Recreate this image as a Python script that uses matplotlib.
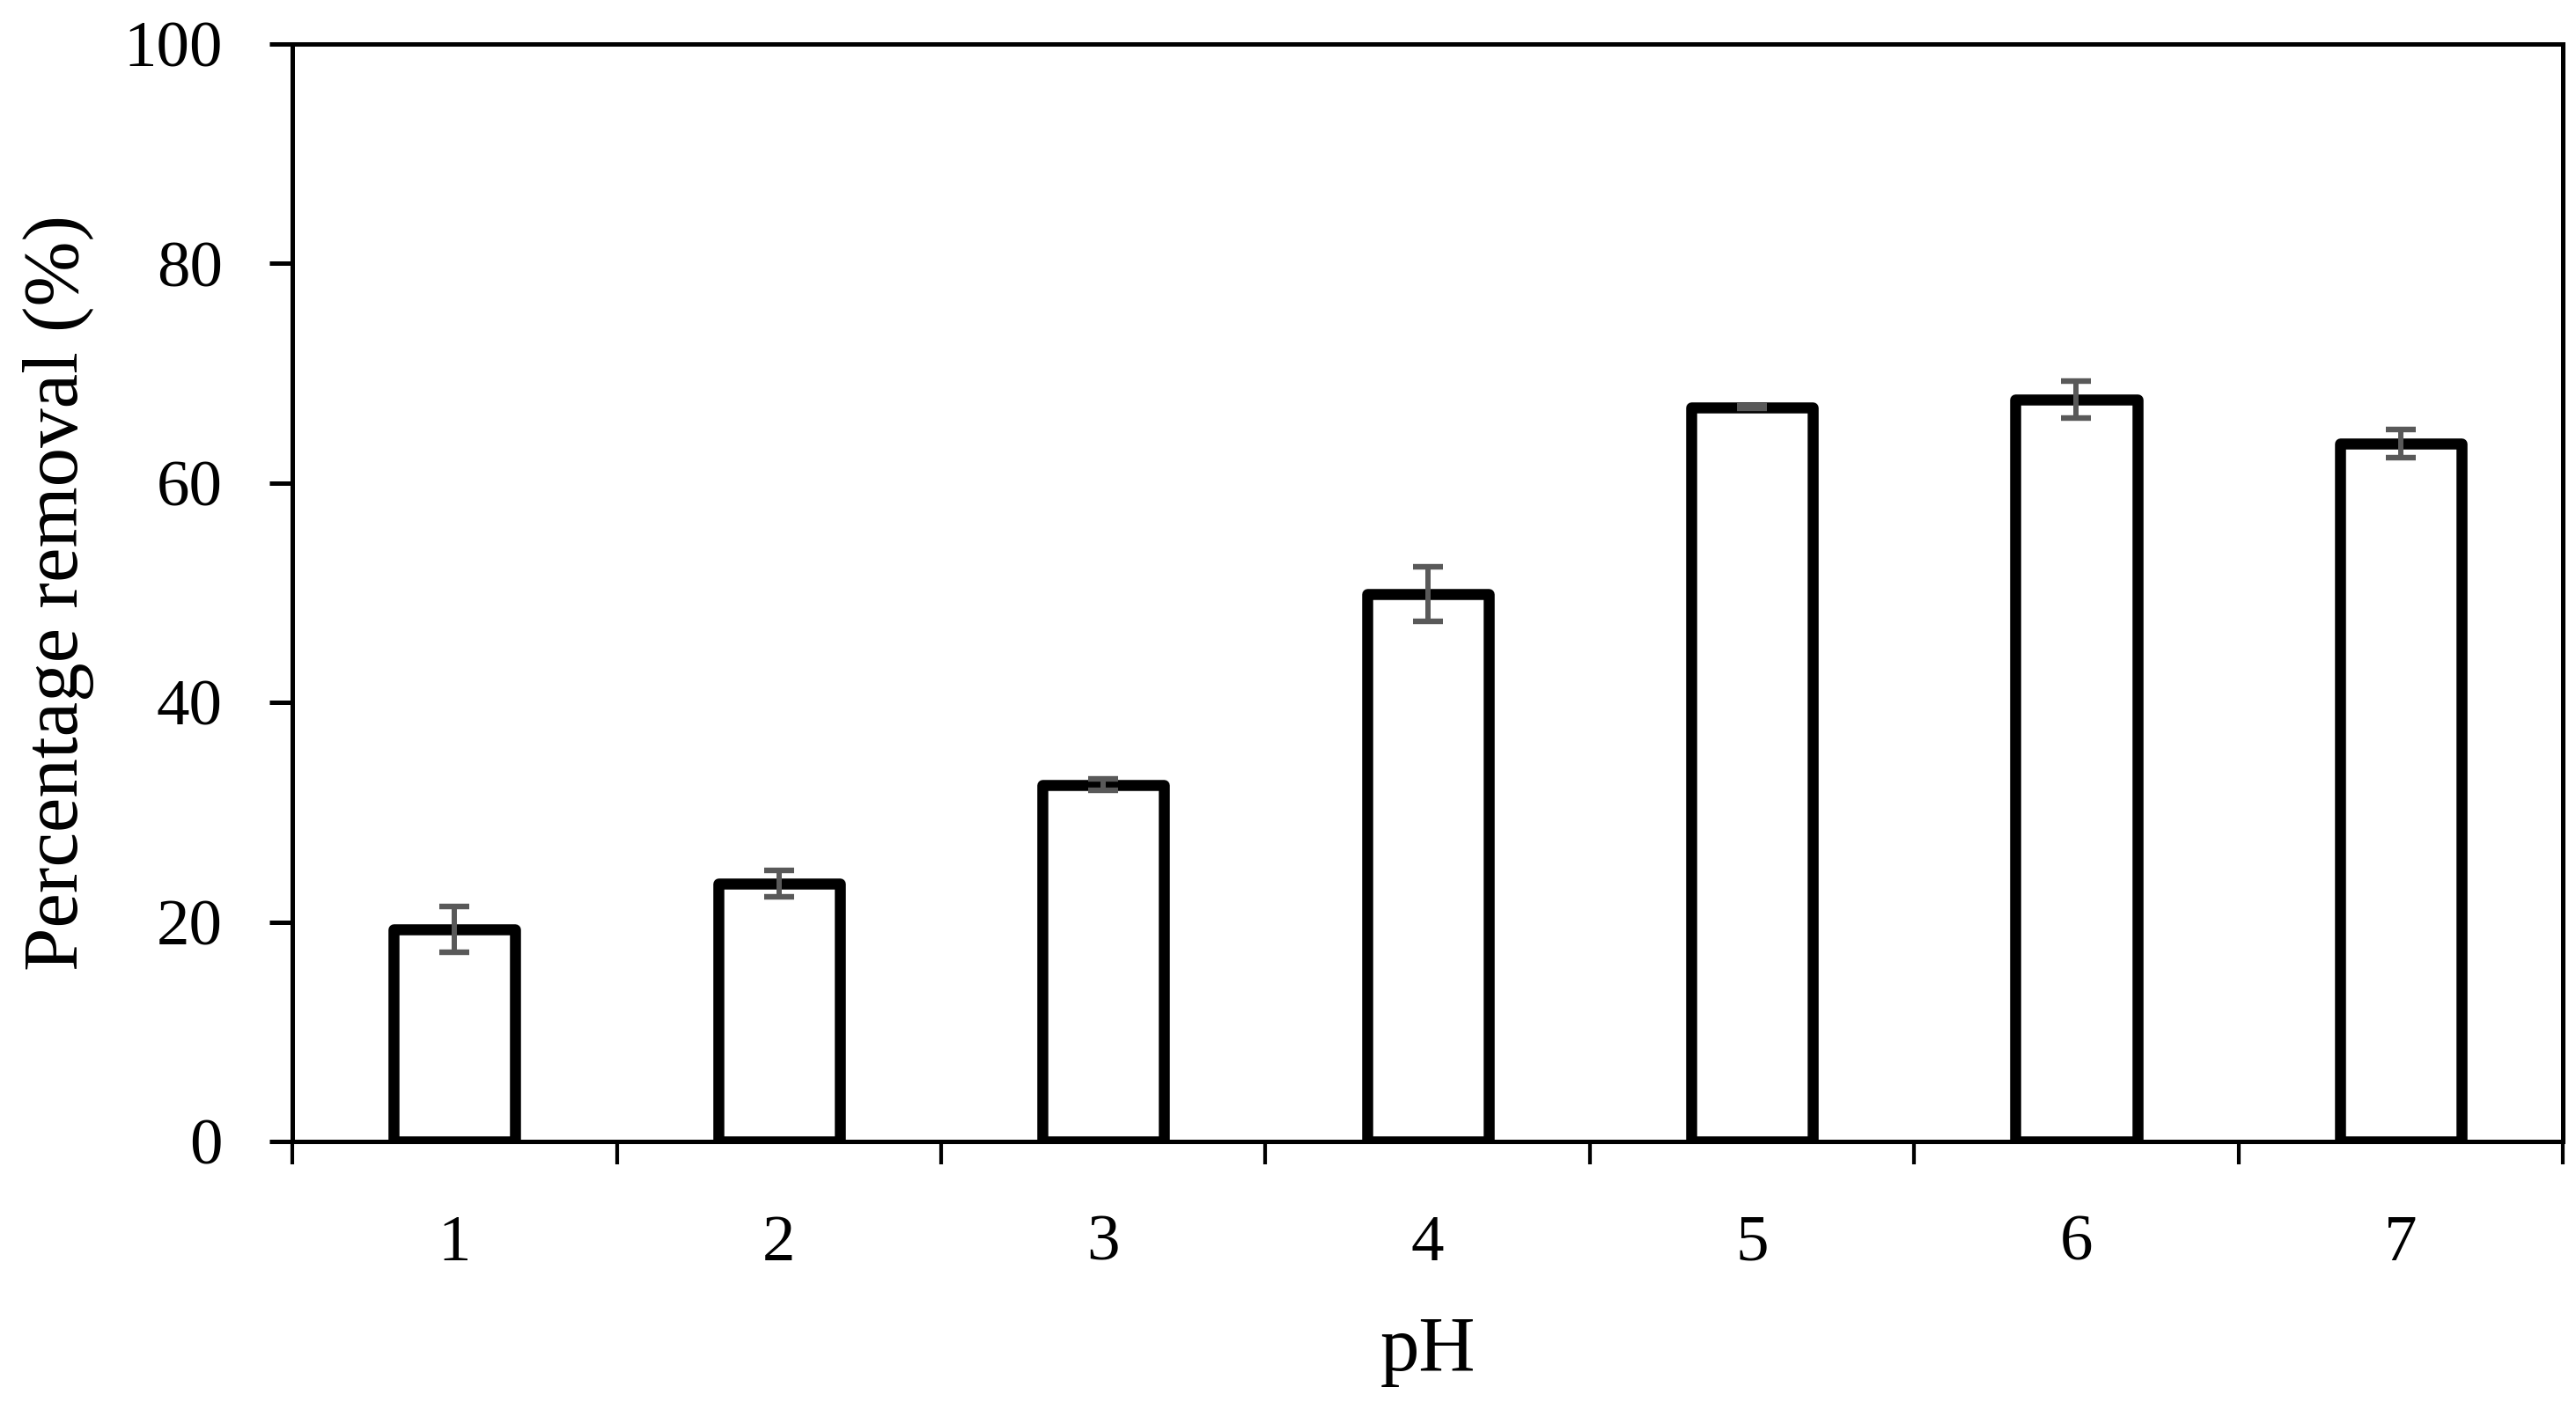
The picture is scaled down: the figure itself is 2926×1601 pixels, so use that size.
import numpy as np
import matplotlib.pyplot as plt

plt.rcParams['font.family'] = ['Liberation Serif', 'DejaVu Serif']

# pH values and percentage removal
ph_labels = ['1', '2', '3', '4', '5', '6', '7']
removal = [19.3, 23.5, 32.5, 49.9, 66.9, 67.6, 63.6]
removal_err = [2.1, 1.2, 0.5, 2.5, 0.1, 1.7, 1.3]

x = np.arange(1, len(ph_labels) + 1)

fig = plt.figure(figsize=(29.26, 16.01), dpi=100)
ax = fig.add_axes([0.1135, 0.1899, 0.8814, 0.7789])

# hollow bars with thick black outline
ax.bar(x, removal, 0.375, color='white', edgecolor='black', linewidth=9,
       joinstyle='round', zorder=2)
ax.errorbar(x, removal, yerr=removal_err, fmt='none', ecolor='#595959',
            elinewidth=4.3, capsize=12, capthick=4.6, zorder=3)

ax.set_xlim(0.5, 7.5)
ax.set_ylim(0, 100)

# ticks between the categories, labels at the centres
ax.set_xticks(np.arange(0.5, 8.0, 1.0))
ax.set_xticklabels([])
ax.set_xticks(x, minor=True)
ax.set_xticklabels(ph_labels, minor=True)
ax.tick_params(axis='x', which='major', direction='out', length=19, width=3)
ax.tick_params(axis='x', which='minor', length=0, pad=60, labelsize=54)
ax.set_yticks(np.arange(0, 101, 20))
ax.tick_params(axis='y', direction='out', length=19, width=3.6, pad=38,
               labelsize=54)

for s in ax.spines.values():
    s.set_linewidth(3.6)

ax.set_xlabel('pH', fontsize=64, labelpad=34)
ax.set_ylabel('Percentage removal (%)', fontsize=64, labelpad=24)

plt.savefig('out.png', dpi=100)
